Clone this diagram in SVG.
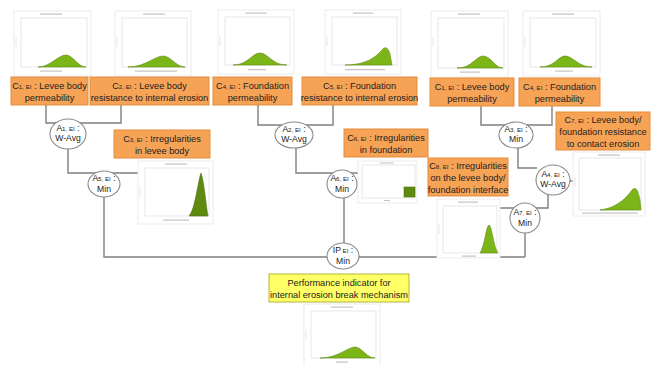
<svg xmlns="http://www.w3.org/2000/svg" width="651" height="365" viewBox="0 0 651 365">
<style>
text{font-family:"Liberation Sans",Arial,sans-serif;fill:#222;}
.bt{font-size:9.2px;text-anchor:middle;}
.et{font-size:8.6px;text-anchor:middle;}
.sub{font-size:6.2px;}
.box{fill:#F6A356;stroke:#E38C3C;stroke-width:1;}
.ybox{fill:#FFFF66;stroke:#B5B53A;stroke-width:1;}
.ell{fill:#fff;stroke:#8a8a8a;stroke-width:1.1;}
.con{fill:none;stroke:#7f7f7f;stroke-width:1.4;}
.frame{fill:#fff;stroke:#ebebeb;stroke-width:1;}
.axes{fill:none;stroke:#d6d6d6;stroke-width:0.6;}
.lbl{fill:#c4c4c4;}
.g{fill:#7CB518;stroke:#5E8C10;stroke-width:0.6;}
.gd{fill:#5E8A12;stroke:#4A700C;stroke-width:0.6;}
</style>

<g id="connectors">
<path class="con" d="M46,105 V123 H121 V105"/>
<path class="con" d="M68,149 V173 H138"/>
<path class="con" d="M104,197 V257 H525"/>
<path class="con" d="M258,105 V125 H333 V105"/>
<path class="con" d="M296,148 V173 H358"/>
<path class="con" d="M344,198 V257"/>
<path class="con" d="M481,106 V125 H552 V106"/>
<path class="con" d="M518,147 V168 H537"/>
<path class="con" d="M548,195 V208 H500"/>
<path class="con" d="M525,233 V257"/>
<path class="con" d="M569,181 H573"/>
</g>

<!-- Charts -->
<g id="chart-c1">
<rect class="frame" x="14" y="11" width="77" height="65"/>
<rect class="axes" x="21" y="18" width="66" height="49"/>
<rect class="lbl" x="40" y="13.5" width="22" height="1.2"/>
<rect class="lbl" x="40" y="70.5" width="22" height="1.2"/>
<path class="axes" d="M17,38 h-1 v8 h1"/>
<path class="g" d="M38,67 C50,67 58,55 66,55 C73,55 78,67 86,67 Z"/>
</g>
<g id="chart-c2">
<rect class="frame" x="115" y="11" width="76" height="65"/>
<rect class="axes" x="122" y="18" width="65" height="49"/>
<rect class="lbl" x="143" y="13.5" width="22" height="1.2"/>
<rect class="lbl" x="135" y="70.5" width="42" height="1.2"/>
<path class="axes" d="M118,38 h-1 v8 h1"/>
<path class="g" d="M128,67 C145,67 155,56 163,56 C171,56 176,67 185,67 Z"/>
</g>
<g id="chart-c4">
<rect class="frame" x="218" y="10" width="76" height="64"/>
<rect class="axes" x="225" y="17" width="65" height="48"/>
<rect class="lbl" x="245" y="12.5" width="22" height="1.2"/>
<rect class="lbl" x="248" y="69" width="18" height="1.2"/>
<path class="axes" d="M221,37 h-1 v8 h1"/>
<path class="g" d="M233,65 C248,65 252,53 260,53 C268,53 272,65 287,65 Z"/>
</g>
<g id="chart-c5">
<rect class="frame" x="325" y="10" width="76" height="64"/>
<rect class="axes" x="332" y="17" width="65" height="48"/>
<rect class="lbl" x="353" y="12.5" width="20" height="1.2"/>
<rect class="lbl" x="345" y="69" width="40" height="1.2"/>
<path class="axes" d="M328,37 h-1 v8 h1"/>
<path class="g" d="M345,65 C365,65 375,58 382,50 C385,46 388,47 390,54 L392,65 Z"/>
</g>
<g id="chart-c1b">
<rect class="frame" x="431" y="11" width="77" height="66"/>
<rect class="axes" x="438" y="18" width="66" height="50"/>
<rect class="lbl" x="458" y="13.5" width="22" height="1.2"/>
<rect class="lbl" x="460" y="71.5" width="20" height="1.2"/>
<path class="axes" d="M434,38 h-1 v8 h1"/>
<path class="g" d="M457,68 C472,68 476,56 483,56 C491,56 495,68 503,68 Z"/>
</g>
<g id="chart-c4b">
<rect class="frame" x="523" y="11" width="77" height="65"/>
<rect class="axes" x="530" y="18" width="66" height="49"/>
<rect class="lbl" x="552" y="13.5" width="22" height="1.2"/>
<rect class="lbl" x="555" y="70.5" width="18" height="1.2"/>
<path class="axes" d="M526,38 h-1 v8 h1"/>
<path class="g" d="M540,67 C555,67 558,56 565,56 C573,56 578,67 592,67 Z"/>
</g>
<g id="chart-c3">
<rect class="frame" x="138" y="161" width="75" height="63"/>
<rect class="axes" x="145" y="168" width="64" height="48"/>
<rect class="lbl" x="165" y="163.5" width="22" height="1.2"/>
<rect class="lbl" x="163" y="219.5" width="26" height="1.2"/>
<path class="axes" d="M141,188 h-1 v8 h1"/>
<path class="gd" d="M189,216 C195,210 198,181 201,173 C204,181 206,205 208,216 Z"/>
</g>
<g id="chart-c6">
<rect class="frame" x="358" y="161" width="59" height="42"/>
<rect class="axes" x="362" y="165" width="53" height="33"/>
<rect class="lbl" x="380" y="162.5" width="14" height="1"/>
<rect class="lbl" x="384" y="200" width="6" height="1"/>
<rect class="gd" x="404" y="187" width="11" height="10"/>
</g>
<g id="chart-c8">
<rect class="frame" x="437" y="199" width="63" height="59"/>
<rect class="axes" x="443" y="206" width="54" height="47"/>
<rect class="lbl" x="458" y="201.5" width="20" height="1.2"/>
<rect class="lbl" x="462" y="255.5" width="14" height="1.2"/>
<path class="axes" d="M440,225 h-1 v8 h1"/>
<path class="g" d="M480,253 C485,245 486,226 489,225 C492,226 493,245 498,253 Z"/>
</g>
<g id="chart-c7">
<rect class="frame" x="573" y="152" width="72" height="64"/>
<rect class="axes" x="579" y="158" width="62" height="52"/>
<rect class="lbl" x="598" y="154.5" width="22" height="1.2"/>
<rect class="lbl" x="582" y="212.5" width="56" height="1.2"/>
<path class="axes" d="M576,178 h-1 v8 h1"/>
<path class="g" d="M600,210 C615,208 625,200 632,190 C636,186 638,190 640,200 L641,210 Z"/>
</g>
<g id="chart-ip">
<rect class="frame" x="304" y="304" width="76" height="62"/>
<rect class="axes" x="311" y="311" width="65" height="47"/>
<rect class="lbl" x="331" y="306.5" width="22" height="1.2"/>
<rect class="lbl" x="336" y="361.5" width="12" height="1.2"/>
<path class="axes" d="M307,330 h-1 v8 h1"/>
<path class="g" d="M320,358 C338,358 348,347 355,347 C362,347 366,358 375,358 Z"/>
</g>

<!-- Criteria boxes -->
<g id="c1">
<rect class="box" x="11" y="77" width="77" height="28"/>
<text class="bt" x="49.5" y="88.5">C<tspan class="sub">1, EI</tspan> : Levee body</text>
<text class="bt" x="49.5" y="100.5">permeability</text>
</g>
<g id="c2">
<rect class="box" x="90" y="77" width="119" height="28"/>
<text class="bt" x="149.5" y="88.5">C<tspan class="sub">2, EI</tspan> : Levee body</text>
<text class="bt" x="149.5" y="100.5">resistance to internal erosion</text>
</g>
<g id="c4">
<rect class="box" x="213" y="77" width="79" height="28"/>
<text class="bt" x="252.5" y="88.5">C<tspan class="sub">4, EI</tspan> : Foundation</text>
<text class="bt" x="252.5" y="100.5">permeability</text>
</g>
<g id="c5">
<rect class="box" x="302" y="77" width="115" height="28"/>
<text class="bt" x="359.5" y="88.5">C<tspan class="sub">5, EI</tspan> : Foundation</text>
<text class="bt" x="359.5" y="100.5">resistance to internal erosion</text>
</g>
<g id="c1b">
<rect class="box" x="430" y="78" width="84" height="28"/>
<text class="bt" x="472" y="89.5">C<tspan class="sub">1, EI</tspan> : Levee body</text>
<text class="bt" x="472" y="101.5">permeability</text>
</g>
<g id="c4b">
<rect class="box" x="519" y="78" width="81" height="28"/>
<text class="bt" x="559.5" y="89.5">C<tspan class="sub">4, EI</tspan> : Foundation</text>
<text class="bt" x="559.5" y="101.5">permeability</text>
</g>
<g id="c3">
<rect class="box" x="114" y="130" width="96" height="28"/>
<text class="bt" x="162" y="141.5">C<tspan class="sub">3, EI</tspan> : Irregularities</text>
<text class="bt" x="162" y="153.5">in levee body</text>
</g>
<g id="c6">
<rect class="box" x="344" y="129" width="84" height="28"/>
<text class="bt" x="386" y="140.5">C<tspan class="sub">6, EI</tspan> : Irregularities</text>
<text class="bt" x="386" y="152.5">in foundation</text>
</g>
<g id="c8">
<rect class="box" x="428" y="158" width="80" height="38"/>
<text class="bt" x="468" y="168.5">C<tspan class="sub">8, EI</tspan> : Irregularities</text>
<text class="bt" x="468" y="180.5">on the levee body/</text>
<text class="bt" x="468" y="192.5">foundation interface</text>
</g>
<g id="c7">
<rect class="box" x="556" y="112" width="94" height="38"/>
<text class="bt" x="603" y="122.5">C<tspan class="sub">7, EI</tspan> : Levee body/</text>
<text class="bt" x="603" y="134.5">foundation resistance</text>
<text class="bt" x="603" y="146.5">to contact erosion</text>
</g>
<g id="ip-box">
<rect class="ybox" x="269" y="274" width="140" height="28"/>
<text class="bt" x="339" y="285.5">Performance indicator for</text>
<text class="bt" x="339" y="297.5">internal erosion break mechanism</text>
</g>

<!-- Aggregation nodes -->
<g id="a1">
<ellipse class="ell" cx="68" cy="134" rx="18" ry="15"/>
<text class="et" x="68" y="131">A<tspan class="sub">1, EI</tspan> :</text>
<text class="et" x="68" y="141">W-Avg</text>
</g>
<g id="a2">
<ellipse class="ell" cx="294" cy="135" rx="19" ry="13"/>
<text class="et" x="294" y="132">A<tspan class="sub">2, EI</tspan> :</text>
<text class="et" x="294" y="142">W-Avg</text>
</g>
<g id="a3">
<ellipse class="ell" cx="516" cy="135" rx="17" ry="13"/>
<text class="et" x="516" y="132">A<tspan class="sub">3, EI</tspan> :</text>
<text class="et" x="516" y="142">Min</text>
</g>
<g id="a4">
<ellipse class="ell" cx="553" cy="180" rx="17" ry="15"/>
<text class="et" x="553" y="177">A<tspan class="sub">4, EI</tspan> :</text>
<text class="et" x="553" y="187">W-Avg</text>
</g>
<g id="a5">
<ellipse class="ell" cx="104" cy="184" rx="16" ry="13"/>
<text class="et" x="104" y="181">A<tspan class="sub">5, EI</tspan> :</text>
<text class="et" x="104" y="192">Min</text>
</g>
<g id="a6">
<ellipse class="ell" cx="342" cy="184" rx="15" ry="14"/>
<text class="et" x="342" y="181">A<tspan class="sub">6, EI</tspan> :</text>
<text class="et" x="342" y="192">Min</text>
</g>
<g id="a7">
<ellipse class="ell" cx="525" cy="218" rx="15" ry="15"/>
<text class="et" x="525" y="215">A<tspan class="sub">7, EI</tspan> :</text>
<text class="et" x="525" y="226">Min</text>
</g>
<g id="ip">
<ellipse class="ell" cx="343" cy="256" rx="16" ry="13"/>
<text class="et" x="343" y="253">IP<tspan class="sub"> EI</tspan> :</text>
<text class="et" x="343" y="264">Min</text>
</g>
</svg>
